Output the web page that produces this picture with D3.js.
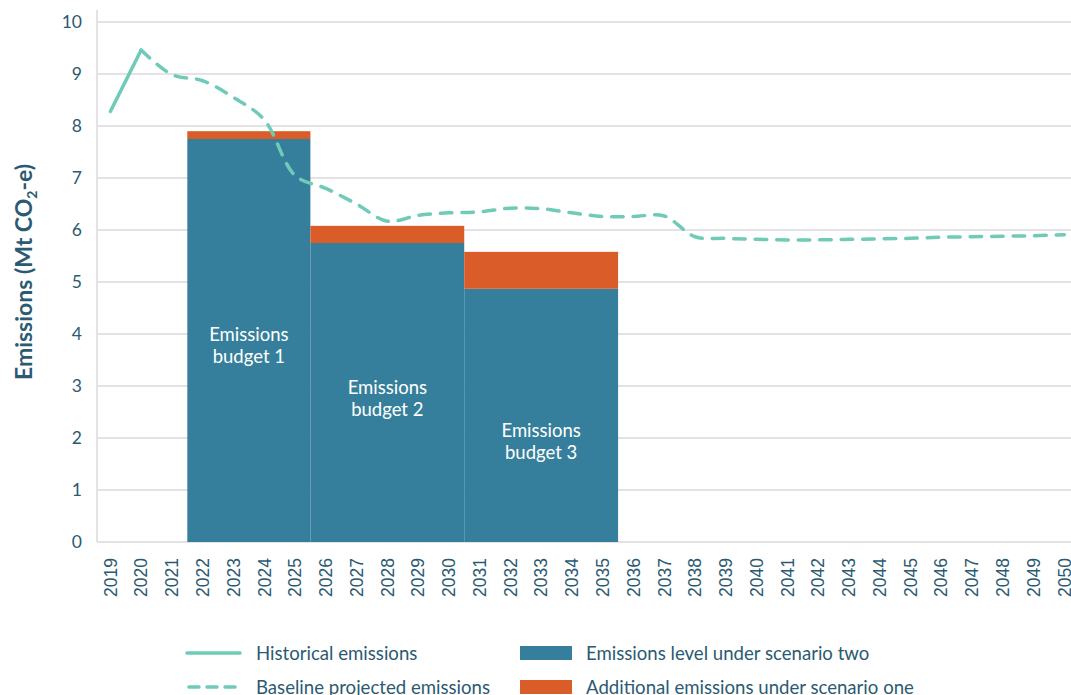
<!DOCTYPE html>
<html><head><meta charset="utf-8">
<script src="https://cdn.jsdelivr.net/npm/d3@7"></script>
<style>body{margin:0;background:#fff}svg{display:block}</style>
</head><body>
<svg id="c" width="1071" height="695"></svg>
<script>
const years = ["2019","2020","2021","2022","2023","2024","2025","2026","2027","2028","2029","2030","2031","2032","2033","2034","2035","2036","2037","2038","2039","2040","2041","2042","2043","2044","2045","2046","2047","2048","2049","2050"];
const historicalYears = ["2019","2020"];
const historical = [8.28, 9.46];
const baselineYears = ["2020","2021","2022","2023","2024","2025","2026","2027","2028","2029","2030","2031","2032","2033","2034","2035","2036","2037","2038","2039","2040","2041","2042","2043","2044","2045","2046","2047","2048","2049","2050"];
const baseline = [9.46, 8.99, 8.87, 8.55, 8.12, 7.05, 6.80, 6.50, 6.17, 6.28, 6.33, 6.35, 6.42, 6.41, 6.33, 6.26, 6.26, 6.27, 5.87, 5.84, 5.82, 5.81, 5.81, 5.82, 5.83, 5.84, 5.86, 5.87, 5.88, 5.89, 5.91];
const budgetNames = ["Emissions budget 1", "Emissions budget 2", "Emissions budget 3"];
const budgetStart = ["2022", "2026", "2031"];
const budgetEnd = ["2025", "2030", "2035"];
const scenarioTwo = [7.75, 5.75, 4.87];
const additional = [0.15, 0.33, 0.71];
const yTicks = [0,1,2,3,4,5,6,7,8,9,10];
const legendNames = ["Historical emissions", "Baseline projected emissions", "Emissions level under scenario two", "Additional emissions under scenario one"];

const C = {blue:"#367F9C", orange:"#D95C29", teal:"#6FCAB8", grid:"#D9D9DF", text:"#2B5A72"};
const svg = d3.select("#c");
const left = 97, right = 1071;
const x = d3.scaleBand().domain(years).range([95, 95 + 32*30.77]).padding(0);
const y = d3.scaleLinear().domain([0,10]).range([542, 22]);
const cx = d => x(d) + x.bandwidth()/2;

// gridlines
svg.append("g").selectAll("line").data(yTicks.filter(d=>d>0)).join("line")
  .attr("x1", left).attr("x2", right).attr("y1", d=>y(d)).attr("y2", d=>y(d))
  .attr("stroke", C.grid).attr("stroke-width", 1.5);
// axis lines
svg.append("line").attr("x1", left).attr("x2", left).attr("y1", 10).attr("y2", y(0))
  .attr("stroke", C.grid).attr("stroke-width", 1.5);
svg.append("line").attr("x1", left).attr("x2", right).attr("y1", y(0)).attr("y2", y(0))
  .attr("stroke", C.grid).attr("stroke-width", 1.5);

// y axis labels
const ya = svg.append("g").attr("transform", `translate(${left},0)`)
  .call(d3.axisLeft(y).tickValues(yTicks).tickSize(0).tickPadding(15).tickFormat(d3.format("d")));
ya.select(".domain").remove();
ya.selectAll("text").attr("font-family","Lato").attr("font-size",17.5).attr("fill",C.text);

// x axis labels
const xa = svg.append("g").attr("transform", `translate(0,${y(0)})`)
  .call(d3.axisBottom(x).tickSize(0));
xa.select(".domain").remove();
xa.selectAll("text").attr("transform","rotate(-90)").attr("x",-16).attr("y",0).attr("dy","0.36em")
  .attr("text-anchor","end").attr("font-family","Liberation Sans").attr("font-size",17.5).attr("fill",C.text);

// y title
const yt = svg.append("text").attr("transform","translate(32,272) rotate(-90)")
  .attr("text-anchor","middle").attr("font-family","Lato").attr("font-weight",700)
  .attr("font-size",23).attr("fill",C.text);
yt.append("tspan").text("Emissions (Mt CO");
yt.append("tspan").text("2").attr("font-size",14).attr("dy",5);
yt.append("tspan").text("-e)").attr("dy",-5);

// bars
const bars = svg.append("g");
budgetNames.forEach((n,i) => {
  const x0 = x(budgetStart[i]), x1 = x(budgetEnd[i]) + x.bandwidth();
  bars.append("rect").attr("x", x0).attr("width", x1-x0)
    .attr("y", y(scenarioTwo[i])).attr("height", y(0)-y(scenarioTwo[i])).attr("fill", C.blue);
  bars.append("rect").attr("x", x0).attr("width", x1-x0)
    .attr("y", y(scenarioTwo[i]+additional[i])).attr("height", y(scenarioTwo[i])-y(scenarioTwo[i]+additional[i])).attr("fill", C.orange);
});
// budget labels
const labelAt = [3.87, 2.85, 2.02];
budgetNames.forEach((n,i) => {
  const x0 = x(budgetStart[i]), x1 = x(budgetEnd[i]) + x.bandwidth();
  const t = svg.append("text").attr("x",(x0+x1)/2).attr("y", y(labelAt[i]))
    .attr("text-anchor","middle").attr("font-family","Lato").attr("font-size",18.5).attr("fill","#fff");
  const parts = n.split(" ");
  t.append("tspan").attr("x",(x0+x1)/2).text(parts[0]);
  t.append("tspan").attr("x",(x0+x1)/2).attr("dy",22).text(parts.slice(1).join(" "));
});

// lines
const line = d3.line().x(d=>cx(d[0])).y(d=>y(d[1]));
svg.append("path").datum(historicalYears.map((d,i)=>[d,historical[i]]))
  .attr("d", line).attr("fill","none").attr("stroke",C.teal).attr("stroke-width",3.5).attr("stroke-linecap","round").attr("stroke-linejoin","round");
svg.append("path").datum(baselineYears.map((d,i)=>[d,baseline[i]]))
  .attr("d", line.curve(d3.curveCatmullRom.alpha(0.5))).attr("fill","none").attr("stroke",C.teal).attr("stroke-width",3.5)
  .attr("stroke-dasharray","11.5 10").attr("stroke-linecap","round");

// legend
const lg = svg.append("g");
const rows = [653, 687];
[0,1].forEach(i => {
  const l = lg.append("line").attr("x1",187).attr("x2",240).attr("y1",rows[i]).attr("y2",rows[i])
    .attr("stroke",C.teal).attr("stroke-width",3.5).attr("stroke-linecap","round");
  if (i===1) l.attr("stroke-dasharray","10 8").attr("x1",189);
  lg.append("text").attr("x",256).attr("y",rows[i]).attr("dy","0.35em").text(legendNames[i])
    .attr("font-family","Lato").attr("font-size",18.6).attr("fill",C.text);
});
[C.blue, C.orange].forEach((c,i) => {
  lg.append("rect").attr("x",520).attr("y",rows[i]-7).attr("width",52).attr("height",14).attr("fill",c);
  lg.append("text").attr("x",586).attr("y",rows[i]).attr("dy","0.35em").text(legendNames[i+2])
    .attr("font-family","Lato").attr("font-size",18.6).attr("fill",C.text);
});
</script>
</body></html>
